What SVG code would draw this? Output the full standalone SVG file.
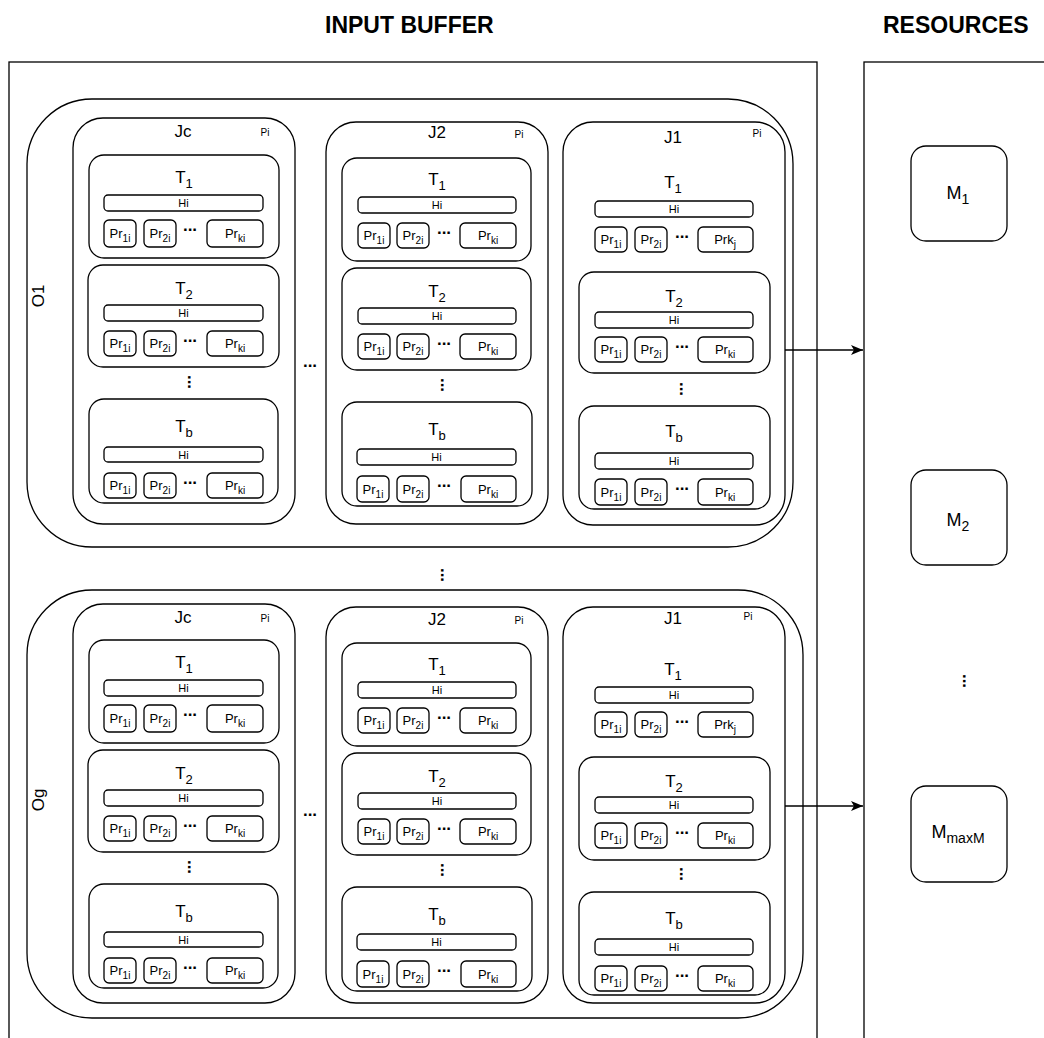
<svg xmlns="http://www.w3.org/2000/svg" width="1044" height="1038" viewBox="0 0 1044 1038">
<defs>
<style>
.b{fill:#fff;stroke:#000;stroke-width:1.3}
.n{fill:none;stroke:#000;stroke-width:1.3}
text{font-family:"Liberation Sans",Arial,Helvetica,sans-serif;fill:#000}
.ttl{font-size:23px;font-weight:bold}
.tl{font-size:17px;text-anchor:middle}
.s{font-size:13px}
.jl{font-size:17px;text-anchor:middle}
.pi{font-size:10px;text-anchor:middle}
.hi{font-size:11px;text-anchor:middle}
.pr{font-size:13px;text-anchor:middle}
.ps{font-size:10px}
.dt{font-size:17px;font-weight:bold;text-anchor:middle}
.ml{font-size:18px;text-anchor:middle}
.ms{font-size:14px}
</style>
<marker id="arr" viewBox="0 0 12 12" refX="12" refY="6" markerWidth="12" markerHeight="12" markerUnits="userSpaceOnUse" orient="auto">
<path d="M0,1 L12,6 L0,11 L3,6 Z" fill="#000"/>
</marker>
</defs>
<rect width="1044" height="1038" fill="#fff"/>
<text class="ttl" x="325" y="33">INPUT BUFFER</text>
<text class="ttl" x="883" y="33">RESOURCES</text>

<g id="input-buffer"><rect class="n" x="9" y="62" width="808" height="1000"/></g>
<g id="resources"><rect class="n" x="864" y="62" width="200" height="1000"/></g>

<g id="o1">
<rect class="b" x="27" y="99" width="766" height="448" rx="65"/>
<text class="jl" transform="translate(44,296) rotate(-90)">O1</text>
</g>
<g id="og">
<rect class="b" x="27" y="590" width="776" height="428" rx="65"/>
<text class="jl" transform="translate(44,800) rotate(-90)">Og</text>
</g>

<!-- O1 Jc -->
<g id="o1-jc">
<rect class="b" x="73" y="118" width="222" height="406" rx="30"/>
<text class="jl" x="183" y="137">Jc</text>
<text class="pi" x="265" y="136">Pi</text>
<g id="o1-jc-t1">
<rect class="b" x="89" y="155" width="190" height="103" rx="15"/>
<text class="tl" x="184" y="183">T<tspan class="s" dy="5">1</tspan></text>
<rect class="b" x="104" y="195" width="159" height="16" rx="4"/><text class="hi" x="183.5" y="207">Hi</text>
<rect class="b" x="104" y="220" width="32" height="27" rx="5"/><text class="pr" x="120" y="238">Pr<tspan class="ps" dy="4">1i</tspan></text>
<rect class="b" x="144" y="220" width="32" height="27" rx="5"/><text class="pr" x="160" y="238">Pr<tspan class="ps" dy="4">2i</tspan></text>
<text class="dt" x="190" y="231">...</text>
<rect class="b" x="207" y="220" width="56" height="27" rx="5"/><text class="pr" x="235" y="238">Pr<tspan class="ps" dy="4">ki</tspan></text>
</g>
<g id="o1-jc-t2">
<rect class="b" x="88" y="265" width="191" height="102" rx="15"/>
<text class="tl" x="184" y="294">T<tspan class="s" dy="5">2</tspan></text>
<rect class="b" x="104" y="305" width="159" height="16" rx="4"/><text class="hi" x="183.5" y="317">Hi</text>
<rect class="b" x="104" y="331" width="32" height="25" rx="5"/><text class="pr" x="120" y="348">Pr<tspan class="ps" dy="4">1i</tspan></text>
<rect class="b" x="144" y="331" width="32" height="25" rx="5"/><text class="pr" x="160" y="348">Pr<tspan class="ps" dy="4">2i</tspan></text>
<text class="dt" x="190" y="342">...</text>
<rect class="b" x="207" y="331" width="56" height="25" rx="5"/><text class="pr" x="235" y="348">Pr<tspan class="ps" dy="4">ki</tspan></text>
</g>
<text class="dt" transform="translate(188,382) rotate(90)">...</text>
<g id="o1-jc-tb">
<rect class="b" x="89" y="399" width="189" height="104" rx="15"/>
<text class="tl" x="184" y="432">T<tspan class="s" dy="5">b</tspan></text>
<rect class="b" x="104" y="447" width="159" height="15" rx="4"/><text class="hi" x="183.5" y="459">Hi</text>
<rect class="b" x="104" y="473" width="32" height="25" rx="5"/><text class="pr" x="120" y="490">Pr<tspan class="ps" dy="4">1i</tspan></text>
<rect class="b" x="144" y="473" width="32" height="25" rx="5"/><text class="pr" x="160" y="490">Pr<tspan class="ps" dy="4">2i</tspan></text>
<text class="dt" x="190" y="484">...</text>
<rect class="b" x="207" y="473" width="56" height="25" rx="5"/><text class="pr" x="235" y="490">Pr<tspan class="ps" dy="4">ki</tspan></text>
</g>
</g>
<text class="dt" x="310" y="367">...</text>

<!-- O1 J2 -->
<g id="o1-j2">
<rect class="b" x="326" y="122" width="222" height="402" rx="30"/>
<text class="jl" x="437" y="138">J2</text>
<text class="pi" x="519" y="138">Pi</text>
<g id="o1-j2-t1">
<rect class="b" x="342" y="158" width="189" height="103" rx="15"/>
<text class="tl" x="437" y="185">T<tspan class="s" dy="5">1</tspan></text>
<rect class="b" x="358" y="197" width="158" height="16" rx="4"/><text class="hi" x="437" y="209">Hi</text>
<rect class="b" x="358" y="223" width="32" height="25" rx="5"/><text class="pr" x="374" y="240">Pr<tspan class="ps" dy="4">1i</tspan></text>
<rect class="b" x="397" y="223" width="32" height="25" rx="5"/><text class="pr" x="413" y="240">Pr<tspan class="ps" dy="4">2i</tspan></text>
<text class="dt" x="444" y="234">...</text>
<rect class="b" x="460" y="223" width="56" height="25" rx="5"/><text class="pr" x="488" y="240">Pr<tspan class="ps" dy="4">ki</tspan></text>
</g>
<g id="o1-j2-t2">
<rect class="b" x="342" y="268" width="189" height="102" rx="15"/>
<text class="tl" x="437" y="297">T<tspan class="s" dy="5">2</tspan></text>
<rect class="b" x="358" y="308" width="158" height="16" rx="4"/><text class="hi" x="437" y="320">Hi</text>
<rect class="b" x="358" y="334" width="32" height="25" rx="5"/><text class="pr" x="374" y="351">Pr<tspan class="ps" dy="4">1i</tspan></text>
<rect class="b" x="397" y="334" width="32" height="25" rx="5"/><text class="pr" x="413" y="351">Pr<tspan class="ps" dy="4">2i</tspan></text>
<text class="dt" x="444" y="345">...</text>
<rect class="b" x="460" y="334" width="56" height="25" rx="5"/><text class="pr" x="488" y="351">Pr<tspan class="ps" dy="4">ki</tspan></text>
</g>
<text class="dt" transform="translate(441,385) rotate(90)">...</text>
<g id="o1-j2-tb">
<rect class="b" x="342" y="402" width="190" height="104" rx="15"/>
<text class="tl" x="437" y="435">T<tspan class="s" dy="5">b</tspan></text>
<rect class="b" x="357" y="449" width="159" height="16" rx="4"/><text class="hi" x="436.5" y="461">Hi</text>
<rect class="b" x="357" y="476" width="32" height="26" rx="5"/><text class="pr" x="373" y="494">Pr<tspan class="ps" dy="4">1i</tspan></text>
<rect class="b" x="397" y="476" width="32" height="26" rx="5"/><text class="pr" x="413" y="494">Pr<tspan class="ps" dy="4">2i</tspan></text>
<text class="dt" x="444" y="487">...</text>
<rect class="b" x="461" y="476" width="55" height="26" rx="5"/><text class="pr" x="488" y="494">Pr<tspan class="ps" dy="4">ki</tspan></text>
</g>
</g>

<!-- O1 J1 -->
<g id="o1-j1">
<rect class="b" x="563" y="122" width="222" height="403" rx="30"/>
<text class="jl" x="673" y="143">J1</text>
<text class="pi" x="757" y="137">Pi</text>
<g id="o1-j1-t1">
<text class="tl" x="673" y="188">T<tspan class="s" dy="5">1</tspan></text>
<rect class="b" x="595" y="201" width="158" height="16" rx="4"/><text class="hi" x="674" y="213">Hi</text>
<rect class="b" x="595" y="227" width="32" height="25" rx="5"/><text class="pr" x="611" y="244">Pr<tspan class="ps" dy="4">1i</tspan></text>
<rect class="b" x="635" y="227" width="32" height="25" rx="5"/><text class="pr" x="651" y="244">Pr<tspan class="ps" dy="4">2i</tspan></text>
<text class="dt" x="682" y="238">...</text>
<rect class="b" x="698" y="227" width="55" height="25" rx="5"/><text class="pr" x="725" y="244">Prk<tspan class="ps" dy="4">j</tspan></text>
</g>
<g id="o1-j1-t2">
<rect class="b" x="579" y="272" width="191" height="101" rx="15"/>
<text class="tl" x="674" y="302">T<tspan class="s" dy="5">2</tspan></text>
<rect class="b" x="595" y="312" width="158" height="16" rx="4"/><text class="hi" x="674" y="324">Hi</text>
<rect class="b" x="595" y="337" width="32" height="25" rx="5"/><text class="pr" x="611" y="354">Pr<tspan class="ps" dy="4">1i</tspan></text>
<rect class="b" x="635" y="337" width="32" height="25" rx="5"/><text class="pr" x="651" y="354">Pr<tspan class="ps" dy="4">2i</tspan></text>
<text class="dt" x="682" y="348">...</text>
<rect class="b" x="698" y="337" width="55" height="25" rx="5"/><text class="pr" x="725" y="354">Pr<tspan class="ps" dy="4">ki</tspan></text>
</g>
<text class="dt" transform="translate(680,389) rotate(90)">...</text>
<g id="o1-j1-tb">
<rect class="b" x="579" y="406" width="191" height="103" rx="15"/>
<text class="tl" x="674" y="437">T<tspan class="s" dy="5">b</tspan></text>
<rect class="b" x="595" y="453" width="158" height="16" rx="4"/><text class="hi" x="674" y="465">Hi</text>
<rect class="b" x="595" y="479" width="32" height="26" rx="5"/><text class="pr" x="611" y="497">Pr<tspan class="ps" dy="4">1i</tspan></text>
<rect class="b" x="635" y="479" width="32" height="26" rx="5"/><text class="pr" x="651" y="497">Pr<tspan class="ps" dy="4">2i</tspan></text>
<text class="dt" x="682" y="490">...</text>
<rect class="b" x="698" y="479" width="55" height="26" rx="5"/><text class="pr" x="725" y="497">Pr<tspan class="ps" dy="4">ki</tspan></text>
</g>
</g>

<text class="dt" transform="translate(441,575) rotate(90)">...</text>

<!-- Og Jc -->
<g id="og-jc">
<rect class="b" x="73" y="604" width="222" height="399" rx="30"/>
<text class="jl" x="183" y="623">Jc</text>
<text class="pi" x="265" y="622">Pi</text>
<g transform="translate(0,485)">
<g id="og-jc-t1">
<rect class="b" x="89" y="155" width="190" height="103" rx="15"/>
<text class="tl" x="184" y="183">T<tspan class="s" dy="5">1</tspan></text>
<rect class="b" x="104" y="195" width="159" height="16" rx="4"/><text class="hi" x="183.5" y="207">Hi</text>
<rect class="b" x="104" y="220" width="32" height="27" rx="5"/><text class="pr" x="120" y="238">Pr<tspan class="ps" dy="4">1i</tspan></text>
<rect class="b" x="144" y="220" width="32" height="27" rx="5"/><text class="pr" x="160" y="238">Pr<tspan class="ps" dy="4">2i</tspan></text>
<text class="dt" x="190" y="231">...</text>
<rect class="b" x="207" y="220" width="56" height="27" rx="5"/><text class="pr" x="235" y="238">Pr<tspan class="ps" dy="4">ki</tspan></text>
</g>
<g id="og-jc-t2">
<rect class="b" x="88" y="265" width="191" height="102" rx="15"/>
<text class="tl" x="184" y="294">T<tspan class="s" dy="5">2</tspan></text>
<rect class="b" x="104" y="305" width="159" height="16" rx="4"/><text class="hi" x="183.5" y="317">Hi</text>
<rect class="b" x="104" y="331" width="32" height="25" rx="5"/><text class="pr" x="120" y="348">Pr<tspan class="ps" dy="4">1i</tspan></text>
<rect class="b" x="144" y="331" width="32" height="25" rx="5"/><text class="pr" x="160" y="348">Pr<tspan class="ps" dy="4">2i</tspan></text>
<text class="dt" x="190" y="342">...</text>
<rect class="b" x="207" y="331" width="56" height="25" rx="5"/><text class="pr" x="235" y="348">Pr<tspan class="ps" dy="4">ki</tspan></text>
</g>
<text class="dt" transform="translate(188,382) rotate(90)">...</text>
<g id="og-jc-tb">
<rect class="b" x="89" y="399" width="189" height="104" rx="15"/>
<text class="tl" x="184" y="432">T<tspan class="s" dy="5">b</tspan></text>
<rect class="b" x="104" y="447" width="159" height="15" rx="4"/><text class="hi" x="183.5" y="459">Hi</text>
<rect class="b" x="104" y="473" width="32" height="25" rx="5"/><text class="pr" x="120" y="490">Pr<tspan class="ps" dy="4">1i</tspan></text>
<rect class="b" x="144" y="473" width="32" height="25" rx="5"/><text class="pr" x="160" y="490">Pr<tspan class="ps" dy="4">2i</tspan></text>
<text class="dt" x="190" y="484">...</text>
<rect class="b" x="207" y="473" width="56" height="25" rx="5"/><text class="pr" x="235" y="490">Pr<tspan class="ps" dy="4">ki</tspan></text>
</g>
</g>
</g>
<text class="dt" x="310" y="816">...</text>

<!-- Og J2 -->
<g id="og-j2">
<rect class="b" x="326" y="607" width="222" height="396" rx="30"/>
<text class="jl" x="437" y="625">J2</text>
<text class="pi" x="519" y="624">Pi</text>
<g transform="translate(0,485)">
<g id="og-j2-t1">
<rect class="b" x="342" y="158" width="189" height="103" rx="15"/>
<text class="tl" x="437" y="185">T<tspan class="s" dy="5">1</tspan></text>
<rect class="b" x="358" y="197" width="158" height="16" rx="4"/><text class="hi" x="437" y="209">Hi</text>
<rect class="b" x="358" y="223" width="32" height="25" rx="5"/><text class="pr" x="374" y="240">Pr<tspan class="ps" dy="4">1i</tspan></text>
<rect class="b" x="397" y="223" width="32" height="25" rx="5"/><text class="pr" x="413" y="240">Pr<tspan class="ps" dy="4">2i</tspan></text>
<text class="dt" x="444" y="234">...</text>
<rect class="b" x="460" y="223" width="56" height="25" rx="5"/><text class="pr" x="488" y="240">Pr<tspan class="ps" dy="4">ki</tspan></text>
</g>
<g id="og-j2-t2">
<rect class="b" x="342" y="268" width="189" height="102" rx="15"/>
<text class="tl" x="437" y="297">T<tspan class="s" dy="5">2</tspan></text>
<rect class="b" x="358" y="308" width="158" height="16" rx="4"/><text class="hi" x="437" y="320">Hi</text>
<rect class="b" x="358" y="334" width="32" height="25" rx="5"/><text class="pr" x="374" y="351">Pr<tspan class="ps" dy="4">1i</tspan></text>
<rect class="b" x="397" y="334" width="32" height="25" rx="5"/><text class="pr" x="413" y="351">Pr<tspan class="ps" dy="4">2i</tspan></text>
<text class="dt" x="444" y="345">...</text>
<rect class="b" x="460" y="334" width="56" height="25" rx="5"/><text class="pr" x="488" y="351">Pr<tspan class="ps" dy="4">ki</tspan></text>
</g>
<text class="dt" transform="translate(441,385) rotate(90)">...</text>
<g id="og-j2-tb">
<rect class="b" x="342" y="402" width="190" height="104" rx="15"/>
<text class="tl" x="437" y="435">T<tspan class="s" dy="5">b</tspan></text>
<rect class="b" x="357" y="449" width="159" height="16" rx="4"/><text class="hi" x="436.5" y="461">Hi</text>
<rect class="b" x="357" y="476" width="32" height="26" rx="5"/><text class="pr" x="373" y="494">Pr<tspan class="ps" dy="4">1i</tspan></text>
<rect class="b" x="397" y="476" width="32" height="26" rx="5"/><text class="pr" x="413" y="494">Pr<tspan class="ps" dy="4">2i</tspan></text>
<text class="dt" x="444" y="487">...</text>
<rect class="b" x="461" y="476" width="55" height="26" rx="5"/><text class="pr" x="488" y="494">Pr<tspan class="ps" dy="4">ki</tspan></text>
</g>
</g>
</g>

<!-- Og J1 -->
<g id="og-j1">
<rect class="b" x="563" y="607" width="222" height="396" rx="30"/>
<text class="jl" x="673" y="624">J1</text>
<text class="pi" x="748" y="620">Pi</text>
<g transform="translate(0,485)">
<g id="og-j1-t1">
<text class="tl" x="673" y="190">T<tspan class="s" dy="5">1</tspan></text>
<rect class="b" x="595" y="202" width="158" height="16" rx="4"/><text class="hi" x="674" y="214">Hi</text>
<rect class="b" x="595" y="227" width="32" height="25" rx="5"/><text class="pr" x="611" y="244">Pr<tspan class="ps" dy="4">1i</tspan></text>
<rect class="b" x="635" y="227" width="32" height="25" rx="5"/><text class="pr" x="651" y="244">Pr<tspan class="ps" dy="4">2i</tspan></text>
<text class="dt" x="682" y="238">...</text>
<rect class="b" x="698" y="227" width="55" height="25" rx="5"/><text class="pr" x="725" y="244">Prk<tspan class="ps" dy="4">j</tspan></text>
</g>
<g id="og-j1-t2">
<rect class="b" x="579" y="272" width="191" height="103" rx="15"/>
<text class="tl" x="674" y="302">T<tspan class="s" dy="5">2</tspan></text>
<rect class="b" x="595" y="312" width="158" height="16" rx="4"/><text class="hi" x="674" y="324">Hi</text>
<rect class="b" x="595" y="338" width="32" height="25" rx="5"/><text class="pr" x="611" y="355">Pr<tspan class="ps" dy="4">1i</tspan></text>
<rect class="b" x="635" y="338" width="32" height="25" rx="5"/><text class="pr" x="651" y="355">Pr<tspan class="ps" dy="4">2i</tspan></text>
<text class="dt" x="682" y="349">...</text>
<rect class="b" x="698" y="338" width="55" height="25" rx="5"/><text class="pr" x="725" y="355">Pr<tspan class="ps" dy="4">ki</tspan></text>
</g>
<text class="dt" transform="translate(680,389) rotate(90)">...</text>
<g id="og-j1-tb">
<rect class="b" x="579" y="407" width="191" height="103" rx="15"/>
<text class="tl" x="674" y="439">T<tspan class="s" dy="5">b</tspan></text>
<rect class="b" x="595" y="454" width="158" height="16" rx="4"/><text class="hi" x="674" y="466">Hi</text>
<rect class="b" x="595" y="481" width="32" height="25" rx="5"/><text class="pr" x="611" y="498">Pr<tspan class="ps" dy="4">1i</tspan></text>
<rect class="b" x="635" y="481" width="32" height="25" rx="5"/><text class="pr" x="651" y="498">Pr<tspan class="ps" dy="4">2i</tspan></text>
<text class="dt" x="682" y="492">...</text>
<rect class="b" x="698" y="481" width="55" height="25" rx="5"/><text class="pr" x="725" y="498">Pr<tspan class="ps" dy="4">ki</tspan></text>
</g>
</g>
</g>

<!-- Resources -->
<g id="m1">
<rect class="b" x="911" y="146" width="96" height="95" rx="15"/>
<text class="ml" x="958" y="199">M<tspan class="ms" dy="5">1</tspan></text>
</g>
<g id="m2">
<rect class="b" x="911" y="470" width="96" height="95" rx="15"/>
<text class="ml" x="958" y="526">M<tspan class="ms" dy="5">2</tspan></text>
</g>
<text class="dt" transform="translate(963,681) rotate(90)">...</text>
<g id="mmaxm">
<rect class="b" x="911" y="786" width="96" height="96" rx="15"/>
<text class="ml" x="958" y="838">M<tspan class="ms" dy="5">maxM</tspan></text>
</g>

<g id="connectors">
<line class="n" x1="785" y1="350" x2="863" y2="350" marker-end="url(#arr)"/>
<line class="n" x1="785" y1="806" x2="863" y2="806" marker-end="url(#arr)"/>
</g>
</svg>
